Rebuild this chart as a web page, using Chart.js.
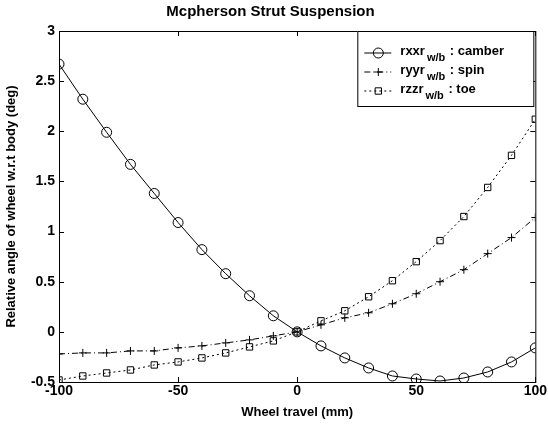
<!DOCTYPE html>
<html>
<head>
<meta charset="utf-8">
<script src="https://cdn.jsdelivr.net/npm/chart.js@4.4.1/dist/chart.umd.min.js"></script>
<style>
  html, body { margin: 0; padding: 0; background: #fff; }
  #wrap { width: 548px; height: 424px; }
</style>
</head>
<body>
<div id="wrap"><canvas id="grafico"></canvas></div>
<script>
const travel = [-100, -90, -80, -70, -60, -50, -40, -30, -20, -10, 0, 10, 20, 30, 40, 50, 60, 70, 80, 90, 100];
const camber = [2.67, 2.32, 1.99, 1.67, 1.38, 1.09, 0.82, 0.58, 0.36, 0.16, 0, -0.14, -0.26, -0.36, -0.44, -0.47, -0.49, -0.46, -0.40, -0.30, -0.16];
const spin = [-0.22, -0.21, -0.21, -0.19, -0.19, -0.16, -0.14, -0.11, -0.08, -0.04, 0, 0.07, 0.14, 0.19, 0.28, 0.38, 0.50, 0.62, 0.78, 0.94, 1.14];
const toe = [-0.48, -0.44, -0.41, -0.38, -0.33, -0.30, -0.26, -0.21, -0.15, -0.09, 0, 0.11, 0.21, 0.35, 0.51, 0.70, 0.91, 1.15, 1.44, 1.76, 2.12];
const leyenda = [
  { base: "rxxr", sub: "w/b", resto: " : camber" },
  { base: "ryyr", sub: "w/b", resto: " : spin" },
  { base: "rzzr", sub: "w/b", resto: " : toe" }
];

const fuente = "'Liberation Sans', Arial, sans-serif";
const pares = (vals) => travel.map((x, i) => ({ x: x, y: vals[i] }));

const estilos = [
  { dash: [], punto: "circle", radio: 5 },
  { dash: [6, 3, 1, 3], punto: "cross", radio: 4 },
  { dash: [2, 3], punto: "rect", radio: 4.5 }
];

// marco, ticks hacia adentro y leyenda con subindices
const marcoPlugin = {
  id: "marco",
  afterDraw(chart) {
    const ctx = chart.ctx;
    const a = chart.chartArea;
    const sx = chart.scales.x;
    const sy = chart.scales.y;
    ctx.save();
    ctx.strokeStyle = "#000";
    ctx.lineWidth = 1;
    ctx.setLineDash([]);
    ctx.strokeRect(a.left + 0.5, a.top + 0.5, a.right - a.left, a.bottom - a.top);
    ctx.beginPath();
    sx.ticks.forEach((t) => {
      const px = Math.round(sx.getPixelForValue(t.value)) + 0.5;
      ctx.moveTo(px, a.bottom); ctx.lineTo(px, a.bottom - 5);
      ctx.moveTo(px, a.top); ctx.lineTo(px, a.top + 5);
    });
    sy.ticks.forEach((t) => {
      const py = Math.round(sy.getPixelForValue(t.value)) + 0.5;
      ctx.moveTo(a.left, py); ctx.lineTo(a.left + 5, py);
      ctx.moveTo(a.right, py); ctx.lineTo(a.right - 5, py);
    });
    ctx.stroke();

    // leyenda
    const bx = a.right - 178, by = a.top, bw = 176, bh = 75;
    ctx.fillStyle = "#fff";
    ctx.fillRect(bx, by, bw, bh);
    ctx.strokeRect(bx + 0.5, by + 0.5, bw, bh);
    leyenda.forEach((item, i) => {
      const cy = by + 22 + i * 19;
      const est = estilos[i];
      ctx.setLineDash(est.dash);
      ctx.beginPath();
      ctx.moveTo(bx + 7, cy); ctx.lineTo(bx + 34, cy);
      ctx.stroke();
      ctx.setLineDash([]);
      ctx.fillStyle = "rgba(0,0,0,0)";
      Chart.helpers.drawPoint(ctx, { pointStyle: est.punto, radius: est.radio, borderWidth: 1 }, bx + 21, cy);
      ctx.fillStyle = "#000";
      ctx.textBaseline = "middle";
      ctx.font = "bold 13px " + fuente;
      let tx = bx + 43;
      ctx.fillText(item.base, tx, cy - 2);
      tx += ctx.measureText(item.base).width + 2;
      ctx.font = "bold 11px " + fuente;
      ctx.fillText(item.sub, tx, cy + 5);
      tx += ctx.measureText(item.sub).width + 1;
      ctx.font = "bold 13px " + fuente;
      ctx.fillText(item.resto, tx, cy - 2);
    });
    ctx.restore();
  }
};

const grafico = document.querySelector("#grafico");
const graf = new Chart(grafico, {
  type: "line",
  data: {
    datasets: [camber, spin, toe].map((vals, i) => ({
      label: leyenda[i].base + leyenda[i].sub + leyenda[i].resto,
      data: pares(vals),
      borderColor: "#000",
      borderWidth: 1,
      borderDash: estilos[i].dash,
      pointStyle: estilos[i].punto,
      pointRadius: estilos[i].radio,
      pointBorderColor: "#000",
      pointBorderWidth: 1,
      pointBackgroundColor: "rgba(0,0,0,0)",
      tension: 0
    }))
  },
  options: {
    responsive: true,
    maintainAspectRatio: false,
    animation: false,
    layout: { padding: { left: 4, right: 11, top: 0, bottom: 4 } },
    plugins: {
      legend: { display: false },
      tooltip: { enabled: false },
      title: {
        display: true,
        text: "Mcpherson Strut Suspension",
        color: "#000",
        font: { family: fuente, size: 15, weight: "bold" },
        padding: { top: 3, bottom: 10 }
      }
    },
    scales: {
      x: {
        type: "linear",
        min: -100,
        max: 100,
        ticks: { stepSize: 50, color: "#000", padding: 1, font: { family: fuente, size: 14, weight: "bold" } },
        grid: { display: false, drawTicks: false },
        border: { display: false },
        title: { display: true, text: "Wheel travel (mm)", color: "#000", padding: 0, font: { family: fuente, size: 13, weight: "bold" } },
        afterFit: (s) => { s.height = 38; }
      },
      y: {
        min: -0.5,
        max: 3,
        ticks: {
          stepSize: 0.5,
          color: "#000",
          padding: 4,
          font: { family: fuente, size: 14, weight: "bold" },
          callback: (v) => String(v)
        },
        grid: { display: false, drawTicks: false },
        border: { display: false },
        title: { display: true, text: "Relative angle of wheel w.r.t body (deg)", color: "#000", padding: 0, font: { family: fuente, size: 13, weight: "bold" } },
        afterFit: (s) => { s.width = 55; }
      }
    }
  },
  plugins: [marcoPlugin]
});
</script>
</body>
</html>
